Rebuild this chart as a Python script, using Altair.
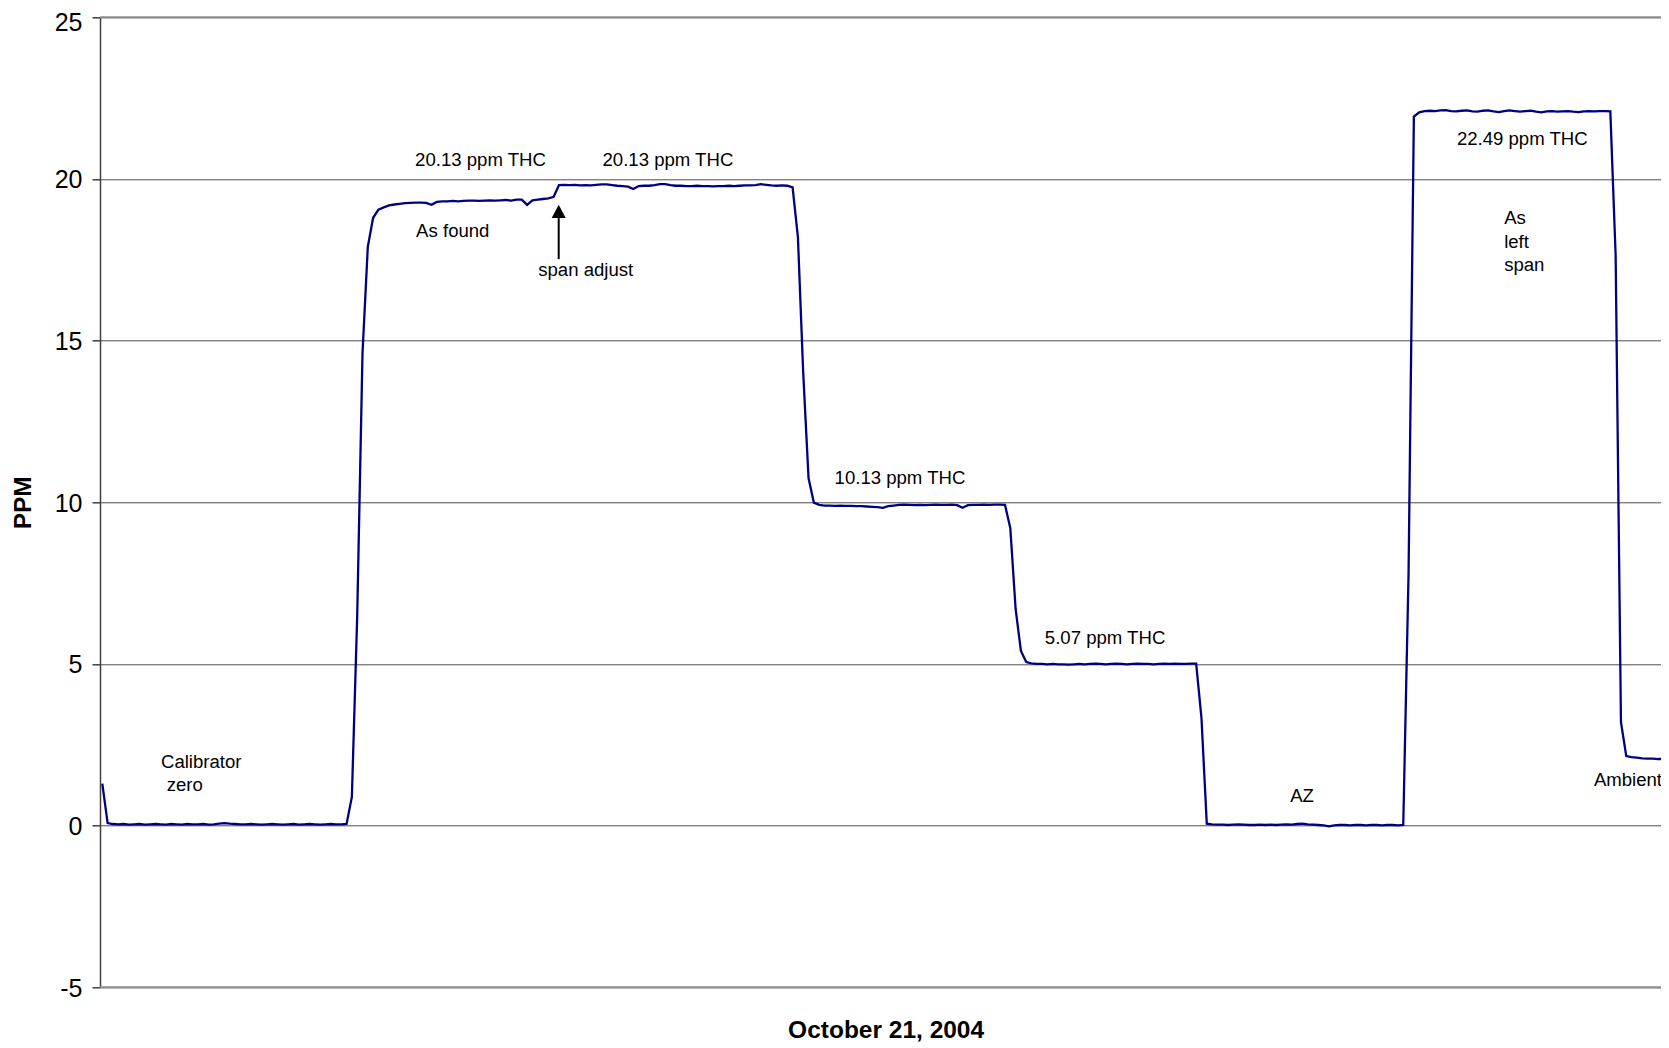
import altair as alt
import pandas as pd

# ---- series values (PPM), one sample per reading ----
start = [1.30, 0.08]
zero_a = [0.05, 0.04, 0.05, 0.03, 0.04, 0.05, 0.03, 0.04, 0.05, 0.04,
          0.03, 0.05, 0.04, 0.03, 0.05, 0.04, 0.04, 0.05, 0.03, 0.04,
          0.06, 0.08, 0.06, 0.05, 0.04, 0.04, 0.05, 0.04, 0.03, 0.04,
          0.05, 0.04, 0.03, 0.04, 0.05, 0.03, 0.04, 0.05, 0.04, 0.03,
          0.04, 0.05, 0.04, 0.04, 0.05]
rise_1 = [0.89, 6.45, 14.6, 17.9, 18.8, 19.05]
as_found = [19.12, 19.18, 19.21, 19.23, 19.25, 19.26, 19.27, 19.27, 19.26, 19.20,
            19.29, 19.31, 19.31, 19.32, 19.31, 19.32, 19.33, 19.33, 19.32, 19.33,
            19.34, 19.33, 19.34, 19.35, 19.33, 19.36, 19.36, 19.20, 19.34, 19.36,
            19.38, 19.40, 19.45]
span_2 = [19.81, 19.82, 19.81, 19.82, 19.80, 19.81, 19.80, 19.82, 19.83, 19.83,
          19.81, 19.79, 19.78, 19.76, 19.69, 19.78, 19.79, 19.79, 19.81, 19.84,
          19.84, 19.81, 19.79, 19.79, 19.78, 19.78, 19.79, 19.78, 19.78, 19.77,
          19.78, 19.78, 19.79, 19.78, 19.79, 19.80, 19.80, 19.81, 19.84, 19.82,
          19.80, 19.79, 19.80, 19.79, 19.74]
drop_1 = [18.2, 14.0, 10.75, 9.99]
ten = [9.92, 9.90, 9.90, 9.89, 9.90, 9.89, 9.89, 9.88, 9.88, 9.87,
       9.86, 9.85, 9.83, 9.88, 9.90, 9.92, 9.93, 9.92, 9.91, 9.92,
       9.91, 9.92, 9.93, 9.92, 9.92, 9.93, 9.91, 9.83, 9.91, 9.92,
       9.92, 9.93, 9.92, 9.93, 9.93, 9.92]
drop_2 = [9.2, 6.7, 5.4, 5.06]
five = [5.02, 5.00, 5.00, 4.99, 5.00, 4.99, 4.99, 4.98, 4.99, 5.00,
        4.99, 5.00, 5.01, 5.00, 4.99, 5.00, 5.01, 5.00, 4.99, 5.00,
        5.01, 5.00, 5.00, 4.99, 5.00, 5.01, 5.00, 5.01, 5.00, 5.00,
        5.01, 5.01]
drop_3 = [3.33]
zero_b = [0.06, 0.04, 0.03, 0.03, 0.02, 0.03, 0.04, 0.03, 0.02, 0.02,
          0.03, 0.02, 0.03, 0.02, 0.03, 0.04, 0.03, 0.05, 0.06, 0.04,
          0.03, 0.02, 0.01, -0.02, 0.01, 0.02, 0.02, 0.01, 0.02, 0.02,
          0.01, 0.02, 0.02, 0.01, 0.02, 0.02, 0.01, 0.02]
rise_2 = [7.8]
span_left = [21.93, 22.06, 22.10, 22.11, 22.10, 22.12, 22.13, 22.10, 22.09, 22.11,
             22.12, 22.09, 22.08, 22.11, 22.12, 22.09, 22.07, 22.10, 22.12, 22.10,
             22.08, 22.10, 22.11, 22.08, 22.06, 22.09, 22.10, 22.08, 22.09, 22.10,
             22.08, 22.07, 22.09, 22.10, 22.09, 22.10, 22.10, 22.09]
drop_4 = [17.62, 3.2, 2.15]
ambient = [2.12, 2.10, 2.08, 2.07, 2.07, 2.06, 2.06, 2.06]

ppm = (start + zero_a + rise_1 + as_found + span_2 + drop_1 + ten + drop_2 + five
       + drop_3 + zero_b + rise_2 + span_left + drop_4 + ambient)
assert len(ppm) == 296, len(ppm)

# ---- annotations (sample index, PPM) ----
ann_text = ["Calibrator", "zero", "20.13 ppm THC", "20.13 ppm THC", "As found",
            "span adjust", "10.13 ppm THC", "5.07 ppm THC", "AZ", "22.49 ppm THC",
            "As", "left", "span", "Ambient"]
ann_i = [11.05, 12.13, 58.9, 94.2, 59.1, 82.1, 137.9, 177.5, 223.7, 255.1,
         264.0, 264.0, 264.0, 280.9]
ann_v = [1.78, 1.06, 20.40, 20.40, 18.20, 17.0, 10.57, 5.63, 0.73, 21.05,
         18.61, 17.86, 17.14, 1.24]

arrow_i = [85.95]
arrow_tail = [17.52]
arrow_neck = [18.79]
arrow_head = [19.0]

border_v = [25, -5]
y_ticks = [-5, 0, 5, 10, 15, 20, 25]

FONT = "Liberation Sans"

series = pd.DataFrame({"i": list(range(len(ppm))), "v": ppm})
ann = pd.DataFrame({"i": ann_i, "v": ann_v, "t": ann_text})
arrow_shaft = pd.DataFrame({"i": arrow_i, "v": arrow_tail, "v2": arrow_neck})
arrow_tip = pd.DataFrame({"i": arrow_i, "v": arrow_head})
border = pd.DataFrame({"v": border_v})

xs = alt.Scale(domain=[-0.433, 293.54], nice=False, zero=False)
ys = alt.Scale(domain=[-5, 25], nice=False, zero=False)

X = alt.X("i:Q", scale=xs,
          axis=alt.Axis(title="October 21, 2004", labels=False, ticks=False,
                        domain=False, grid=False, titleFont=FONT, titleFontSize=24.5,
                        titleFontWeight="bold", titleColor="black",
                        titleX=785.6, titleY=50.6, titleAlign="center",
                        titleBaseline="alphabetic"))
Y = alt.Y("v:Q", scale=ys,
          axis=alt.Axis(values=y_ticks, title="PPM",
                        labelExpr="'' + datum.value",
                        titleFont=FONT, titleFontSize=24.5, titleFontWeight="bold",
                        titleColor="black", titleAngle=270, titleX=-76.6, titleY=485,
                        titleAlign="center", titleBaseline="middle",
                        labelFont=FONT, labelFontSize=25, labelColor="black",
                        labelPadding=10,
                        labelOffset={"condition": {"test": "datum.value == 25", "value": 5},
                                     "value": 1},
                        tickSize=8, tickColor="#404040", tickWidth=1.5,
                        domainColor="#404040", domainWidth=1.5,
                        grid=True, gridColor="#4d4d4d", gridWidth=1))

line = alt.Chart(series).mark_line(color="#000080", strokeWidth=2.3, clip=True).encode(x=X, y=Y)

borders = alt.Chart(border).mark_rule(color="#8c8c8c", strokeWidth=2).encode(y=Y)

texts = alt.Chart(ann).mark_text(align="left", baseline="alphabetic", font=FONT,
                                 fontSize=18.6, color="black").encode(x=X, y=Y, text="t:N")

shaft = alt.Chart(arrow_shaft).mark_rule(color="black", strokeWidth=2).encode(
    x=X, y=Y, y2="v2:Q")
tip = alt.Chart(arrow_tip).mark_point(shape="M0,-1L1.05,1L-1.05,1Z", filled=True,
                                      size=177, color="black", opacity=1).encode(x=X, y=Y)

chart = alt.layer(borders, line, texts, shaft, tip).properties(
    width=1561, height=970,
    autosize=alt.AutoSizeParams(type="none"),
    padding={"left": 92, "top": 9.3, "right": 0, "bottom": 56},
).configure_view(stroke=None)

chart.save("out.html", embed_options={"renderer": "svg", "actions": False})
